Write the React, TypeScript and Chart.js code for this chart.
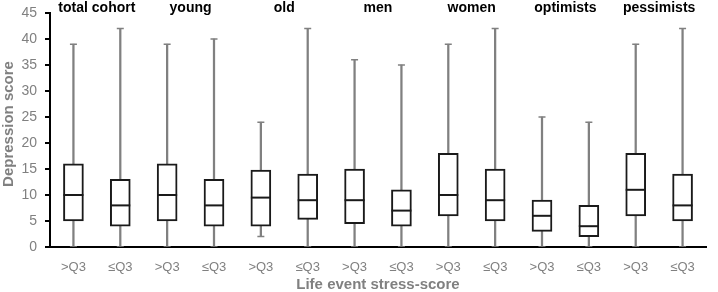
import React, { useEffect, useRef } from "react";
import { Chart, registerables } from "chart.js";

Chart.register(...registerables);

const categories = [">Q3", "≤Q3", ">Q3", "≤Q3", ">Q3", "≤Q3", ">Q3", "≤Q3", ">Q3", "≤Q3", ">Q3", "≤Q3", ">Q3", "≤Q3"];
const groups = ["total cohort", "young", "old", "men", "women", "optimists", "pessimists"];
const mins = [0, 0, 0, 0, 2, 0, 0, 0, 0, 0, 0, 0, 0, 0];
const q1s = [5, 4, 5, 4, 4, 5.3, 4.5, 4, 6, 5, 3, 2, 6, 5];
const medians = [10, 8, 10, 8, 9.5, 9, 9, 7, 10, 9, 6, 4, 11, 8];
const q3s = [16, 13, 16, 13, 14.8, 14, 15, 11, 18, 15, 9, 8, 18, 14];
const maxs = [39, 42, 39, 40, 24, 42, 36, 35, 39, 42, 25, 24, 39, 42];
const yTicks = [0, 5, 10, 15, 20, 25, 30, 35, 40, 45];
const yTitle = "Depression score";
const xTitle = "Life event stress-score";

const FONT = "'Liberation Sans', Arial, sans-serif";
const GRAY = "#808080";
const BOX = "#1a1a1a";

const labelPlugin = {
  id: "groupLabels",
  afterDraw(chart: any) {
    const { ctx } = chart;
    const x = chart.scales.x;
    ctx.save();
    ctx.font = `bold 14px ${FONT}`;
    ctx.fillStyle = "#000";
    ctx.textAlign = "center";
    ctx.textBaseline = "middle";
    groups.forEach((g, i) => {
      const px = (x.getPixelForValue(2 * i) + x.getPixelForValue(2 * i + 1)) / 2;
      ctx.fillText(g, px, 8);
    });
    ctx.fillStyle = GRAY;
    ctx.font = `bold 15px ${FONT}`;
    ctx.translate(9, 124);
    ctx.rotate(-Math.PI / 2);
    ctx.fillText(yTitle, 0, 0);
    ctx.restore();
  },
};

export default function App() {
  const ref = useRef<HTMLCanvasElement | null>(null);
  useEffect(() => {
    if (!ref.current) return;
    const chart = new Chart(ref.current, {
      type: "bar",
      data: {
        labels: categories,
        datasets: [
          {
            type: "bar",
            data: q1s.map((q, i) => [q, q3s[i]]),
            backgroundColor: "#ffffff",
            borderColor: BOX,
            borderWidth: 2,
            borderSkipped: false,
            barThickness: 20,
            grouped: false,
            order: 2,
          } as any,
          {
            type: "bar",
            data: mins.map((m, i) => [m, maxs[i]]),
            backgroundColor: GRAY,
            borderWidth: 0,
            barThickness: 1.6,
            grouped: false,
            order: 3,
          } as any,
          {
            type: "line",
            data: medians,
            showLine: false,
            pointStyle: "line",
            pointRadius: 10,
            pointBorderWidth: 2,
            pointBorderColor: BOX,
            order: 1,
          } as any,
          {
            type: "line",
            data: maxs,
            showLine: false,
            pointStyle: "line",
            pointRadius: 3.5,
            pointBorderWidth: 1.5,
            pointBorderColor: GRAY,
            order: 3,
          } as any,
          {
            type: "line",
            data: mins,
            showLine: false,
            pointStyle: "line",
            pointRadius: 3.5,
            pointBorderWidth: 1.5,
            pointBorderColor: GRAY,
            order: 3,
          } as any,
        ],
      },
      options: {
        animation: false,
        responsive: true,
        maintainAspectRatio: false,
        layout: { padding: { top: 13, right: 1, left: 0, bottom: 0 } },
        plugins: { legend: { display: false }, tooltip: { enabled: false } },
        events: [],
        scales: {
          x: {
            z: 1,
            offset: true,
            grid: { display: false },
            border: { display: true, color: "#000", width: 2 },
            ticks: { color: GRAY, font: { family: FONT, size: 13 }, padding: 5, maxRotation: 0, autoSkip: false },
            title: {
              display: true,
              text: xTitle,
              color: GRAY,
              font: { family: FONT, size: 15, weight: "bold", lineHeight: 1 },
              padding: { top: 0, bottom: 0 },
            },
            afterFit: (s: any) => {
              s.height = 45;
              s.paddingLeft = 0;
              s.paddingRight = 0;
            },
          },
          y: {
            min: 0,
            max: 45,
            afterBuildTicks: (s: any) => {
              s.ticks = yTicks.map((v) => ({ value: v }));
            },
            grid: { display: true, drawOnChartArea: false, drawTicks: true, tickLength: 5, color: "#000", lineWidth: 2 },
            border: { display: true, color: "#000", width: 2 },
            ticks: { color: GRAY, font: { family: FONT, size: 14 }, padding: 8 },
            title: { display: false },
            afterFit: (s: any) => {
              s.width = 50;
              s.paddingTop = 0;
              s.paddingBottom = 0;
            },
          },
        },
      } as any,
      plugins: [labelPlugin],
    });
    return () => chart.destroy();
  }, []);
  return (
    <div style={{ position: "absolute", left: 0, top: 0, width: 718, height: 292 }}>
      <canvas ref={ref} />
    </div>
  );
}
